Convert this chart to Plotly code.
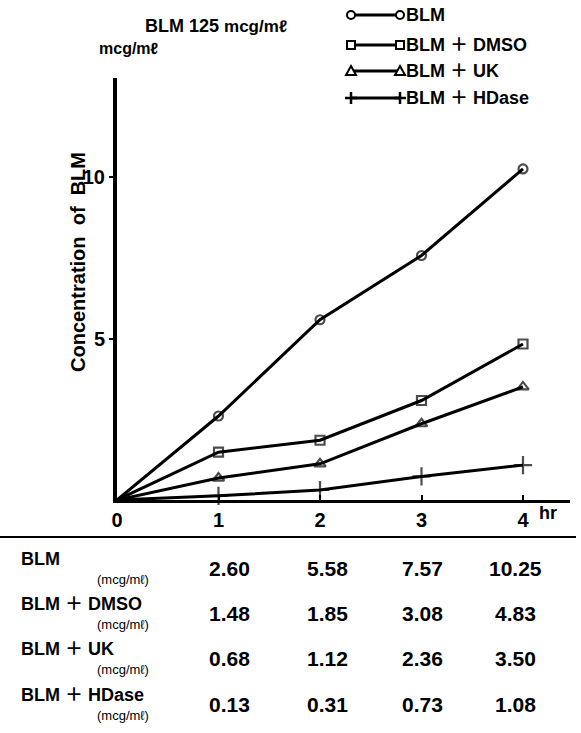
import plotly.graph_objects as go

# ---------------- data ----------------
hours = [0, 1, 2, 3, 4]
table_hours = [1, 2, 3, 4]
series_names = ["BLM", "BLM＋DMSO", "BLM＋UK", "BLM＋HDase"]
blm = [0, 2.60, 5.58, 7.57, 10.25]
blm_dmso = [0, 1.48, 1.85, 3.08, 4.83]
blm_uk = [0, 0.68, 1.12, 2.36, 3.50]
blm_hdase = [0, 0.13, 0.31, 0.73, 1.08]
x_tick_vals = [0, 1, 2, 3, 4]
x_tick_text = ["0", "1", "2", "3", "4"]
y_tick_vals = [5, 10]
y_tick_text = ["5", "10"]
unit = "mcg/mℓ"
title_main = "BLM 125"
y_title = "Concentration  of  BLM"
x_unit = "hr"

series = [blm, blm_dmso, blm_uk, blm_hdase]
symbols = ["circle-open", "square-open", "triangle-up-open", "cross-thin-open"]
msizes = [9, 9, 10, 13]

# ---------------- layout geometry (pixels) ----------------
W, H = 581, 733
L, R, T, B = 117, 570, 78, 500          # plot area edges in pixels
X_PX_PER_UNIT = 101.5
Y_PX_PER_UNIT = 32.3
x_max = (R - L) / X_PX_PER_UNIT
y_max = (B - T) / Y_PX_PER_UNIT
col_shift = [11, 7, 1, -8]               # table column nudges (px)


def px(p):
    return (p - L) / (R - L)


def py(p):
    return (B - p) / (B - T)


FONT = "Liberation Sans, Arial, Noto Sans CJK JP, sans-serif"


def label(name):
    return "<b>" + name.replace("＋", " ＋ ") + "</b>"


fig = go.Figure()
for name, vals, sym, ms in zip(series_names, series, symbols, msizes):
    fig.add_trace(go.Scatter(
        x=hours, y=vals, name=name, mode="lines+markers",
        line=dict(color="black", width=3),
        marker=dict(symbol=sym, size=[0] + [ms] * (len(vals) - 1),
                    color="black", line=dict(color="black", width=2.2)),
        cliponaxis=False, showlegend=False,
    ))

annotations = []
shapes = []

# title
annotations.append(dict(
    x=px(143), y=py(26), xref="paper", yref="paper", showarrow=False,
    text=f"<b>{title_main}</b> <b style='font-size:17px'>{unit}</b>",
    font=dict(family=FONT, size=18, color="black"), xanchor="left", yanchor="middle"))
# unit label above y axis
annotations.append(dict(
    x=px(129), y=py(49), xref="paper", yref="paper", showarrow=False,
    text=f"<b>{unit}</b>", font=dict(family=FONT, size=16, color="black"),
    xanchor="center", yanchor="middle"))
# y axis title
annotations.append(dict(
    x=px(78), y=py(262), xref="paper", yref="paper", showarrow=False,
    text=f"<b>{y_title}</b>", textangle=-90, font=dict(family=FONT, size=20, color="black"),
    xanchor="center", yanchor="middle"))
# hr label
annotations.append(dict(
    x=px(548), y=py(513), xref="paper", yref="paper", showarrow=False,
    text=f"<b>{x_unit}</b>", font=dict(family=FONT, size=18, color="black"),
    xanchor="center", yanchor="middle"))

# legend (custom: marker — marker)
leg_rows = [15, 45, 71, 98]
x1, x2 = 351, 400
for name, sym, r in zip(series_names, symbols, leg_rows):
    shapes.append(dict(type="line", xref="paper", yref="paper",
                       x0=px(x1), x1=px(x2), y0=py(r), y1=py(r),
                       line=dict(color="black", width=3)))
    for cx in (x1, x2):
        if sym.startswith("circle"):
            shapes.append(dict(type="circle", xref="paper", yref="paper",
                               x0=px(cx - 4), x1=px(cx + 4), y0=py(r - 4), y1=py(r + 4),
                               fillcolor="white", line=dict(color="black", width=2)))
        elif sym.startswith("square"):
            shapes.append(dict(type="rect", xref="paper", yref="paper",
                               x0=px(cx - 4), x1=px(cx + 4), y0=py(r - 4), y1=py(r + 4),
                               fillcolor="white", line=dict(color="black", width=2)))
        elif sym.startswith("triangle"):
            pts = [(cx, r - 5), (cx + 5, r + 4), (cx - 5, r + 4)]
            path = "M " + " L ".join(f"{px(a)},{py(b)}" for a, b in pts) + " Z"
            shapes.append(dict(type="path", xref="paper", yref="paper", path=path,
                               fillcolor="white", line=dict(color="black", width=2)))
        else:
            shapes.append(dict(type="line", xref="paper", yref="paper",
                               x0=px(cx - 6), x1=px(cx + 6), y0=py(r), y1=py(r),
                               line=dict(color="black", width=2.5)))
            shapes.append(dict(type="line", xref="paper", yref="paper",
                               x0=px(cx), x1=px(cx), y0=py(r - 6), y1=py(r + 6),
                               line=dict(color="black", width=2.5)))
    annotations.append(dict(
        x=px(404), y=py(r), xref="paper", yref="paper", showarrow=False,
        text=label(name), font=dict(family=FONT, size=18, color="black"),
        xanchor="left", yanchor="middle"))

# table separator
shapes.append(dict(type="line", xref="paper", yref="paper",
                   x0=px(0), x1=px(576), y0=py(537), y1=py(537),
                   line=dict(color="black", width=2)))

# table rows
row_vals = [568, 613, 658, 704]
for name, vals, r in zip(series_names, series, row_vals):
    annotations.append(dict(
        x=px(19), y=py(r - 9), xref="paper", yref="paper", showarrow=False,
        text=label(name), font=dict(family=FONT, size=18, color="black"),
        xanchor="left", yanchor="middle"))
    annotations.append(dict(
        x=px(151), y=py(r + 11), xref="paper", yref="paper", showarrow=False,
        text=f"({unit})", font=dict(family=FONT, size=13, color="black"),
        xanchor="right", yanchor="middle"))
    for h, v, dx in zip(table_hours, vals[1:], col_shift):
        annotations.append(dict(
            x=h, y=py(r), xref="x", yref="paper", showarrow=False, xshift=dx,
            text=f"<b>{v:.2f}</b>", font=dict(family=FONT, size=21, color="black"),
            xanchor="center", yanchor="middle"))

fig.update_layout(
    width=W, height=H,
    margin=dict(l=L, r=W - R, t=T, b=H - B, pad=0),
    paper_bgcolor="white", plot_bgcolor="white",
    annotations=annotations, shapes=shapes,
    xaxis=dict(range=[0, x_max], tickvals=x_tick_vals, ticktext=x_tick_text,
               showline=True, linecolor="black", linewidth=3, mirror=False,
               ticks="inside", ticklen=5, tickwidth=2, tickcolor="black",
               showgrid=False, zeroline=False,
               tickfont=dict(family=FONT, size=20, color="black", weight="bold")),
    yaxis=dict(range=[0, y_max], tickvals=y_tick_vals, ticktext=y_tick_text,
               showline=True, linecolor="black", linewidth=4,
               ticks="outside", ticklen=4, tickwidth=2, tickcolor="black",
               showgrid=False, zeroline=False,
               tickfont=dict(family=FONT, size=20, color="black", weight="bold")),
)

fig.write_html("out.html")
